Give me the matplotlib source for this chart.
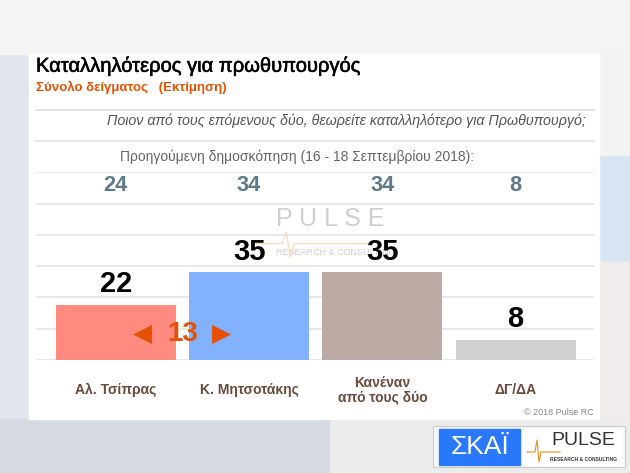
import matplotlib.pyplot as plt
import matplotlib.patheffects as pe
from matplotlib.patches import Rectangle

plt.rcParams['font.family'] = ['Liberation Sans', 'DejaVu Sans']

# data
categories = ['Αλ. Τσίπρας', 'Κ. Μητσοτάκης', 'Κανέναν\nαπό τους δύο', 'ΔΓ/ΔΑ']
values = [22, 35, 35, 8]
previous = [24, 34, 34, 8]
bar_colors = ['#FF8A80', '#82B1FF', '#BCAAA4', '#D0D0D0']

title = 'Καταλληλότερος για πρωθυπουργός'
subtitle = 'Σύνολο δείγματος   (Εκτίμηση)'
question = 'Ποιον από τους επόμενους δύο, θεωρείτε καταλληλότερο για Πρωθυπουργό;'
prev_label = 'Προηγούμενη δημοσκόπηση (16 - 18 Σεπτεμβρίου 2018):'

W, H = 630, 473
fig = plt.figure(figsize=(W / 100, H / 100), dpi=100)
fig.patch.set_facecolor('#E3E6EE')


def px(x, y):
    # pixel coords (top-left origin) -> figure fraction
    return x / W, 1 - y / H


def rect(x0, y0, x1, y1, **kw):
    fig.patches.append(Rectangle((x0 / W, 1 - y1 / H), (x1 - x0) / W, (y1 - y0) / H,
                                 transform=fig.transFigure, **kw))


def hline(x0, x1, y, **kw):
    fig.lines.append(plt.Line2D([x0 / W, x1 / W], [1 - y / H] * 2,
                                transform=fig.transFigure, **kw))


# background pieces
rect(0, 0, 630, 54, color='#F4F4F4', zorder=-3)
rect(599, 54, 630, 156, color='#F3F3F3', zorder=-3)
rect(599, 156, 630, 262, color='#D7E5F3', zorder=-3)
rect(599, 262, 630, 420, color='#F1EDED', zorder=-3)
rect(0, 419, 330, 473, color='#D6DAE3', zorder=-3)
rect(330, 419, 630, 473, color='#ECECEC', zorder=-3)
# white panel
rect(29, 54, 599, 419, color='white', zorder=-2)

# header texts
fig.text(*px(36, 66), title, fontsize=14.5, color='black', va='center', ha='left',
         path_effects=[pe.withStroke(linewidth=0.4, foreground='black')])
fig.text(*px(36, 87), subtitle, fontsize=9.5, color='#E65100', fontweight='bold',
         va='center', ha='left')
hline(36, 594, 110, color='#E0E0E0', lw=1.2)
fig.text(*px(586, 121), question, fontsize=10.3, color='#555555', style='italic',
         va='center', ha='right')
hline(36, 594, 141, color='#E0E0E0', lw=1.2)
fig.text(*px(120, 157), prev_label, fontsize=10, color='#666666',
         va='center', ha='left')

# chart
ax = fig.add_axes([36 / W, 1 - 360 / H, 558 / W, 187.7 / H])
ax.set_zorder(1)
ax.set_facecolor('none')
x = list(range(len(categories)))
ax.bar(x, values, width=0.9, color=bar_colors, zorder=3)
ax.set_xlim(-0.598, 3.588)
ax.set_ylim(0, 75)
ax.set_yticks([0, 12.5, 25, 37.5, 50, 62.5, 75])
ax.grid(axis='y', color='#E2E2E2', lw=1.1, zorder=0)
for s in ax.spines.values():
    s.set_visible(False)
ax.set_xticks(x)
ax.set_xticklabels(categories, fontsize=10, fontweight='bold', color='#6B4A3A',
                   linespacing=1.05, va='center')
ax.tick_params(left=False, labelleft=False, length=0)
ax.tick_params(axis='x', pad=21.5)

for xi, v in zip(x, values):
    ax.annotate(str(v), (xi, v), xytext=(0, 15), textcoords='offset points',
                ha='center', va='center', fontsize=21, fontweight='bold', zorder=5)
for xi, p in zip(x, previous):
    ax.text(xi, 69.7, str(p), ha='center', va='center', fontsize=15.7,
            fontweight='bold', color='#5E7A89')

# difference between the two leaders
gap = values[1] - values[0]
gx, gy = 0.5, 10.5
ax.text(gx, gy, str(gap), ha='center', va='center', fontsize=20,
        fontweight='bold', color='#E65100', zorder=6)
ax.annotate('◀', (gx, gy), xytext=(-28.5, 0), textcoords='offset points',
            ha='center', va='center', fontsize=18, color='#E65100', zorder=6,
            family=['DejaVu Sans'])
ax.annotate('▶', (gx, gy), xytext=(28.5, 0), textcoords='offset points',
            ha='center', va='center', fontsize=18, color='#E65100', zorder=6,
            family=['DejaVu Sans'])

# watermark
ax.text(1.61, 56.2, 'P U L S E', ha='center', va='center', fontsize=18,
        color='#C4C4C4', alpha=0.8, zorder=1)
ax.text(1.20, 43.1, 'RESEARCH & CONSULTING', ha='left', va='center', fontsize=6.5,
        color='#D0D0D0', zorder=1)
ax.plot([1.03, 1.25, 1.28, 1.31, 1.34, 1.9], [46.5, 46.5, 51, 41, 46.5, 46.5],
        color='#FFD8B0', lw=0.8, zorder=1)

fig.text(*px(594, 412), '© 2018 Pulse RC', fontsize=6.5, color='#888888',
         ha='right', va='center')

# logos
rect(433, 426, 625, 467, facecolor='#F7F7F7', edgecolor='#CCCCCC', lw=0.8, zorder=1)
rect(439, 429, 520, 465, color='#2979FF', zorder=2)
fig.text(*px(479.5, 447), 'ΣΚΑΪ', fontsize=19, color='white', ha='center',
         va='center', zorder=3)
rect(523, 429, 622, 465, color='white', zorder=2)
fig.text(*px(583, 440), 'PULSE', fontsize=14, color='#333333', ha='center',
         va='center', zorder=3)
fig.text(*px(583, 459), 'RESEARCH & CONSULTING', fontsize=3.6, color='#333333',
         fontweight='bold', ha='center', va='center', zorder=3)
fig.lines.append(plt.Line2D([527 / W, 535 / W, 537 / W, 539 / W, 541 / W, 560 / W],
                            [1 - 452 / H, 1 - 452 / H, 1 - 440 / H, 1 - 462 / H,
                             1 - 452 / H, 1 - 452 / H],
                            color='#F08A1C', lw=0.8, transform=fig.transFigure,
                            zorder=3))

fig.savefig('out.png', dpi=100, facecolor=fig.get_facecolor())
